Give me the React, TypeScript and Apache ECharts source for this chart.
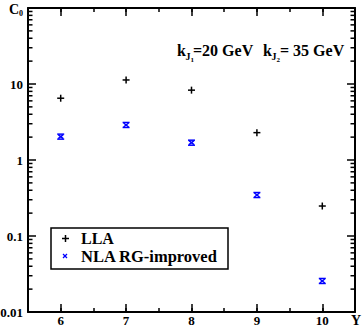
import React, { useEffect, useRef } from "react";
import * as echarts from "echarts";

const xValues = [6, 7, 8, 9, 10];
const llaValues = [6.5, 11.3, 8.3, 2.29, 0.248];
const nlaValues = [2.03, 2.89, 1.69, 0.346, 0.0256];
const yDecades = [0.01, 0.1, 1, 10];
const yMinorMultipliers = [2, 3, 4, 5, 6, 7, 8, 9];
const xMin = 5.5;
const xMax = 10.5;
const yMin = 0.01;
const yMax = 100;

const SERIF = '"Liberation Serif", "DejaVu Serif", serif';

export default function App() {
  const ref = useRef<HTMLDivElement>(null);
  useEffect(() => {
    document.body.style.margin = "0";
    if (!ref.current) return;
    const chart = echarts.init(ref.current, undefined, { renderer: "svg" });
    const minorTicks: number[][] = [];
    yDecades.forEach((d) =>
      yMinorMultipliers.forEach((m) => minorTicks.push([xMin, Number((d * m).toPrecision(3))]))
    );
    const black = "#000";
    const blue = "#0000ff";
    const labelStyle = {
      color: black,
      fontFamily: SERIF,
      fontWeight: "bold" as const,
      fontSize: 13,
    };
    const xAxisBase = {
      type: "value" as const,
      min: xMin,
      max: xMax,
      splitLine: { show: false },
    };
    const yAxisBase = {
      type: "log" as const,
      logBase: 10,
      min: yMin,
      max: yMax,
      splitLine: { show: false },
    };
    const t = (text: string, x: number, y: number, size: number, lh?: number) => ({
      type: "text",
      x,
      y,
      style: {
        text,
        font: `bold ${size}px ${SERIF}`,
        fill: black,
        verticalAlign: "middle",
        ...(lh ? { lineHeight: lh } : {}),
      },
    });
    chart.setOption({
      animation: false,
      backgroundColor: "#fff",
      grid: { left: 28, right: 7, top: 8, bottom: 15, outerBoundsMode: "none" },
      xAxis: [
        {
          ...xAxisBase,
          position: "bottom",
          axisLine: { lineStyle: { color: black, width: 2 } },
          axisTick: { inside: true, length: 8, lineStyle: { color: black, width: 1.5 } },
          axisLabel: { ...labelStyle, margin: 2, lineHeight: 12, showMinLabel: false, showMaxLabel: false },
        },
        {
          ...xAxisBase,
          position: "top",
          axisLine: { lineStyle: { color: black, width: 2 } },
          axisTick: { inside: true, length: 8, lineStyle: { color: black, width: 1.5 } },
          axisLabel: { show: false },
        },
        {
          ...xAxisBase,
          interval: 0.5,
          position: "bottom",
          axisLine: { show: false },
          axisTick: { inside: true, length: 4, lineStyle: { color: black, width: 1.5 } },
          axisLabel: { show: false },
        },
        {
          ...xAxisBase,
          interval: 0.5,
          position: "top",
          axisLine: { show: false },
          axisTick: { inside: true, length: 4, lineStyle: { color: black, width: 1.5 } },
          axisLabel: { show: false },
        },
      ],
      yAxis: [
        {
          ...yAxisBase,
          position: "left",
          axisLine: { lineStyle: { color: black, width: 2 } },
          axisTick: { inside: true, length: 8, lineStyle: { color: black, width: 1.5 } },
          axisLabel: {
            ...labelStyle,
            margin: 5,
            showMaxLabel: false,
            formatter: (v: number) => String(Number(v.toPrecision(3))),
          },
        },
        {
          ...yAxisBase,
          position: "right",
          axisLine: { lineStyle: { color: black, width: 2 } },
          axisTick: { inside: true, length: 8, lineStyle: { color: black, width: 1.5 } },
          axisLabel: { show: false },
        },
      ],
      series: [
        {
          name: "minor",
          type: "custom",
          silent: true,
          clip: false,
          xAxisIndex: 0,
          yAxisIndex: 0,
          data: minorTicks,
          encode: { x: 0, y: 1 },
          renderItem: (params: any, api: any) => {
            const cs = params.coordSys;
            const y = api.coord([api.value(0), api.value(1)])[1];
            const st = { stroke: black, lineWidth: 1.5 };
            return {
              type: "group",
              children: [
                { type: "line", shape: { x1: cs.x, y1: y, x2: cs.x + 4.5, y2: y }, style: st },
                {
                  type: "line",
                  shape: { x1: cs.x + cs.width - 4.5, y1: y, x2: cs.x + cs.width, y2: y },
                  style: st,
                },
              ],
            };
          },
        },
        {
          name: "LLA",
          type: "custom",
          xAxisIndex: 0,
          yAxisIndex: 0,
          data: xValues.map((x, i) => [x, llaValues[i]]),
          encode: { x: 0, y: 1 },
          renderItem: (_p: any, api: any) => {
            const p = api.coord([api.value(0), api.value(1)]);
            const s = 3.5;
            const st = { stroke: black, lineWidth: 1.5 };
            return {
              type: "group",
              children: [
                { type: "line", shape: { x1: p[0] - s, y1: p[1], x2: p[0] + s, y2: p[1] }, style: st },
                { type: "line", shape: { x1: p[0], y1: p[1] - s, x2: p[0], y2: p[1] + s }, style: st },
              ],
            };
          },
        },
        {
          name: "NLA RG-improved",
          type: "custom",
          xAxisIndex: 0,
          yAxisIndex: 0,
          data: xValues.map((x, i) => [x, nlaValues[i]]),
          encode: { x: 0, y: 1 },
          renderItem: (_p: any, api: any) => {
            const p = api.coord([api.value(0), api.value(1)]);
            const w = 2.5;
            const h = 2;
            const st = { stroke: blue, lineWidth: 1.5 };
            return {
              type: "group",
              children: [
                { type: "line", shape: { x1: p[0] - w, y1: p[1] - h, x2: p[0] + w, y2: p[1] + h }, style: st },
                { type: "line", shape: { x1: p[0] - w, y1: p[1] + h, x2: p[0] + w, y2: p[1] - h }, style: st },
                { type: "line", shape: { x1: p[0] - 3.5, y1: p[1] - h - 0.5, x2: p[0] + 3.5, y2: p[1] - h - 0.5 }, style: st },
                { type: "line", shape: { x1: p[0] - 3.5, y1: p[1] + h + 0.5, x2: p[0] + 3.5, y2: p[1] + h + 0.5 }, style: st },
              ],
            };
          },
        },
      ],
      graphic: [
        // axis titles
        t("C", 9, 9, 14),
        t("0", 19, 13, 8),
        t("Y", 351, 320, 14),
        // annotation
        t("k", 177, 50, 16),
        t("J", 185.5, 56, 10),
        t("1", 190.5, 60, 7),
        t("=20 GeV", 193, 50, 16),
        t("k", 263, 50, 16),
        t("J", 271.5, 56, 10),
        t("2", 276.5, 60, 7),
        t("= 35 GeV", 280, 50, 16),
        // legend
        {
          type: "rect",
          shape: { x: 51, y: 228, width: 177, height: 41 },
          style: { fill: "#fff", stroke: black, lineWidth: 1.5 },
        },
        { type: "line", shape: { x1: 62, y1: 238.5, x2: 69, y2: 238.5 }, style: { stroke: black, lineWidth: 1.5 } },
        { type: "line", shape: { x1: 65.5, y1: 235, x2: 65.5, y2: 242 }, style: { stroke: black, lineWidth: 1.5 } },
        { type: "line", shape: { x1: 63, y1: 254, x2: 67, y2: 258 }, style: { stroke: blue, lineWidth: 1.3 } },
        { type: "line", shape: { x1: 63, y1: 258, x2: 67, y2: 254 }, style: { stroke: blue, lineWidth: 1.3 } },
        t("LLA", 81, 238, 16),
        t("NLA RG-improved", 81, 256, 16.5),
      ],
    });
    return () => chart.dispose();
  }, []);
  return <div ref={ref} style={{ width: 362, height: 327 }} />;
}
